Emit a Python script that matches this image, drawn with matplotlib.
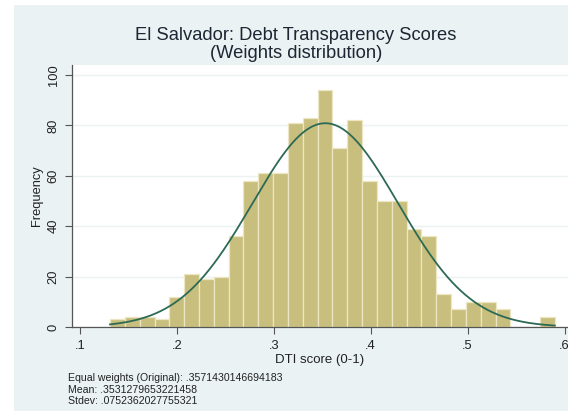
import numpy as np
import matplotlib
matplotlib.use("Agg")
import matplotlib.pyplot as plt
from matplotlib.patches import Rectangle

plt.rcParams["font.family"] = ["Liberation Sans", "DejaVu Sans"]

# Histogram of DTI scores across weight draws (30 equal-width bins)
bin_lo = 0.131
bin_hi = 0.590
counts = [3, 4, 4, 3, 12, 21, 19, 20, 36, 58,
          61, 61, 81, 83, 94, 71, 82, 58, 50, 50,
          39, 36, 13, 7, 10, 10, 7, 0, 0, 4]

original_score = ".3571430146694183"
mean_score = 0.3531279653221458
sd_score = 0.0752362027755321

x_ticks = [0.1, 0.2, 0.3, 0.4, 0.5, 0.6]
x_tick_labels = [".1", ".2", ".3", ".4", ".5", ".6"]
y_ticks = [0, 20, 40, 60, 80, 100]

W, H = 568, 411
fig = plt.figure(figsize=(W / 100, H / 100), dpi=100, facecolor="white")

bg = "#eaf2f3"
fig.patches.append(Rectangle((14 / W, 0), 1 - 14 / W, 1 - 5 / H,
                             transform=fig.transFigure, facecolor=bg,
                             edgecolor="none", zorder=-10))

ax = fig.add_axes([72 / W, 1 - 327 / H, (W - 72) / W, (327 - 65) / H])
ax.set_facecolor("white")

n_bins = len(counts)
edges = np.linspace(bin_lo, bin_hi, n_bins + 1)
width = edges[1] - edges[0]
ax.bar(edges[:-1], counts, width=width, align="edge",
       color="#c8be7d", edgecolor="#ece6c4", linewidth=0.9, zorder=2)

# Normal density scaled to frequency
n_total = sum(counts)
xs = np.linspace(bin_lo, bin_hi, 400)
pdf = np.exp(-0.5 * ((xs - mean_score) / sd_score) ** 2) / (sd_score * np.sqrt(2 * np.pi))
ax.plot(xs, n_total * width * pdf, color="#2d6a56", linewidth=1.3, zorder=3)

ax.set_xlim(0.1 - 8 / 969, 0.1 + (W - 80) / 969)
ax.set_ylim(0, 104)

ax.set_yticks(y_ticks)
ax.set_yticklabels([str(t) for t in y_ticks], rotation=90, va="center",
                   fontsize=9.3, color="#222222")
ax.set_xticks(x_ticks)
ax.set_xticklabels(x_tick_labels, fontsize=9.3, color="#222222")
ax.tick_params(axis="both", length=5, width=0.8, color="#555555")
ax.tick_params(axis="x", pad=4)
ax.tick_params(axis="y", pad=4)

ax.yaxis.grid(True, color=bg, linewidth=1.0, zorder=0)
ax.set_axisbelow(True)
for side in ("top", "right"):
    ax.spines[side].set_visible(False)
for side in ("left", "bottom"):
    ax.spines[side].set_color("#555555")
    ax.spines[side].set_linewidth(0.9)

ax.set_ylabel("Frequency", fontsize=9.3, color="#222222", labelpad=3)
ax.set_xlabel("DTI score (0-1)", fontsize=9.5, color="#222222", labelpad=2)

fig.text(296 / W, 1 - 35 / H, "El Salvador: Debt Transparency Scores",
         ha="center", va="center", fontsize=13.2, color="#1c2733")
fig.text(296 / W, 1 - 53 / H, "(Weights distribution)",
         ha="center", va="center", fontsize=13.2, color="#1c2733")

notes = [f"Equal weights (Original): {original_score}",
         f"Mean: {mean_score!r}".replace("0.", ".", 1),
         f"Stdev: {sd_score!r}".replace("0.", ".", 1)]
for i, line in enumerate(notes):
    fig.text(68 / W, 1 - (378 + 11.7 * i) / H, line, ha="left", va="center",
             fontsize=7.6, color="#222222")

fig.savefig("out.png", dpi=100, facecolor=fig.get_facecolor())
